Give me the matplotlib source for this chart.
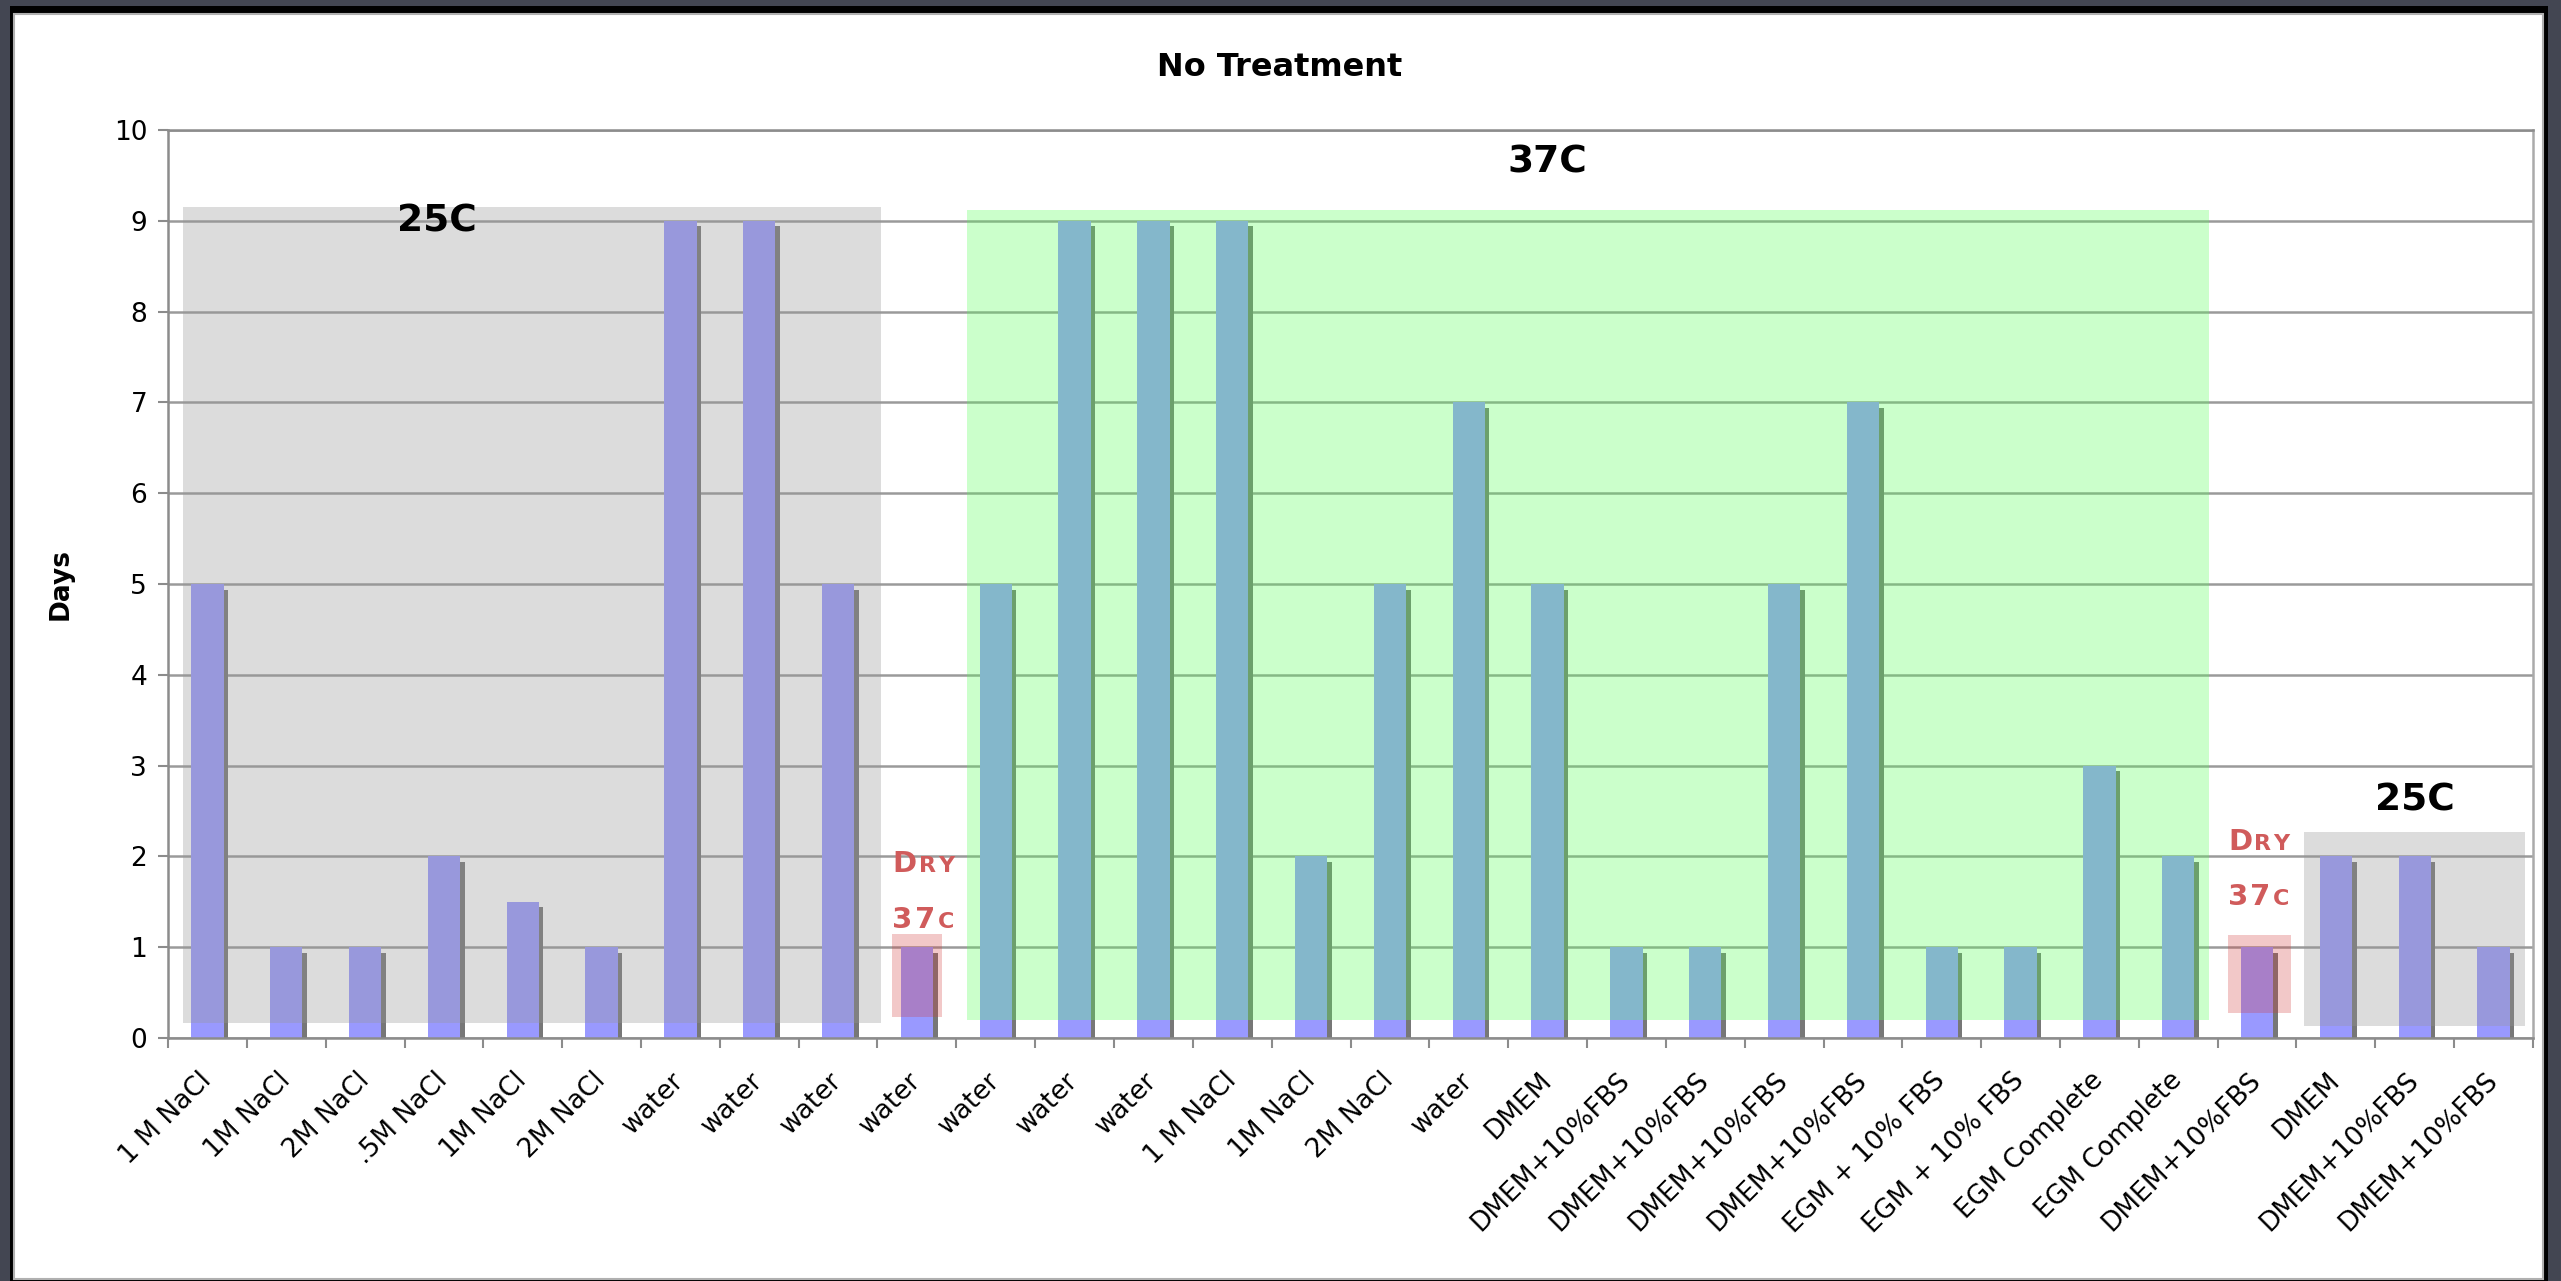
import numpy as np
import matplotlib
matplotlib.use('Agg')
import matplotlib.pyplot as plt
from matplotlib import patheffects as pe
from matplotlib.patches import Rectangle
from matplotlib.offsetbox import TextArea, HPacker, AnnotationBbox

# chart data
labels = ["1 M NaCl", "1M NaCl", "2M NaCl", ".5M NaCl", "1M NaCl", "2M NaCl",
          "water", "water", "water", "water", "water", "water", "water",
          "1 M NaCl", "1M NaCl", "2M NaCl", "water", "DMEM",
          "DMEM+10%FBS", "DMEM+10%FBS", "DMEM+10%FBS", "DMEM+10%FBS",
          "EGM + 10% FBS", "EGM + 10% FBS", "EGM Complete", "EGM Complete",
          "DMEM+10%FBS", "DMEM", "DMEM+10%FBS", "DMEM+10%FBS"]
days = [5, 1, 1, 2, 1.5, 1, 9, 9, 5, 1,
        5, 9, 9, 9, 2, 5, 7, 5, 1, 1,
        5, 7, 1, 1, 3, 2, 1, 2, 2, 1]
y_ticks = list(range(0, 11))

W, H = 2561, 1281
fig = plt.figure(figsize=(W / 100, H / 100), dpi=100)
fig.patch.set_facecolor('#434652')

# slide frame: black edge + white panel
fig.add_artist(Rectangle((10 / W, 0), 2538 / W, 1275 / H, transform=fig.transFigure,
                         facecolor='black', edgecolor='none', zorder=-3))
fig.add_artist(Rectangle((14 / W, 2 / H), 2529 / W, 1265 / H, transform=fig.transFigure,
                         facecolor='white', edgecolor='#b0b0b0', lw=1.5, zorder=-2))

ax = fig.add_axes([168 / W, 1 - 1038 / H, 2365 / W, 908 / H])
ax.set_facecolor('white')

x = np.arange(len(days))
bars = ax.bar(x, days, width=0.41, color='#9999ff', zorder=2)
for b in bars:
    b.set_path_effects([pe.SimplePatchShadow(offset=(3.2, -4), shadow_rgbFace='#777777', alpha=1.0),
                        pe.Normal()])

# temperature regions (semi-transparent overlays)
regions = [
    ((-0.31, 0.16), 8.85, 8.99, '#969696', 0.33),
    ((9.63, 0.20), 15.76, 8.92, '#55ff55', 0.30),
    ((8.68, 0.23), 0.64, 0.92, '#d23c3c', 0.28),
    ((25.63, 0.27), 0.80, 0.86, '#d23c3c', 0.28),
    ((26.59, 0.13), 2.81, 2.14, '#969696', 0.33),
]
for xy, w, h, c, a in regions:
    ax.add_patch(Rectangle(xy, w, h, facecolor=c, edgecolor='none', alpha=a, zorder=3))

ax.set_xlim(-0.5, len(days) - 0.5)
ax.set_ylim(0, 10)
ax.set_yticks(y_ticks)
ax.set_yticklabels([str(t) for t in y_ticks], fontsize=19)
ax.set_xticks(x)
ax.set_xticklabels(labels, fontsize=19, rotation=45, ha='right', va='center',
                   rotation_mode='anchor')
ax.set_xticks(np.arange(-0.5, len(days), 1), minor=True)
ax.tick_params(axis='x', which='major', length=0, pad=28)
ax.tick_params(axis='x', which='minor', length=7, width=1.5, color='#8c8c8c', direction='out')
ax.tick_params(axis='y', length=7, width=1.5, color='#8c8c8c', pad=8)

ax.yaxis.grid(True, color='#9a9a9a', lw=1.8)
ax.set_axisbelow(True)
for s in ax.spines.values():
    s.set_color('#8c8c8c')
    s.set_linewidth(1.8)
ax.spines['right'].set_color('#aaaaaa')

# region labels
for tx, ty, t in [(2.91, 8.99, '25C'), (17.0, 9.64, '37C'), (28.0, 2.62, '25C')]:
    ax.text(tx, ty, t, fontsize=27, fontweight='bold', ha='center', va='center', zorder=5)


def small_caps(parts):
    kids = [TextArea(s, textprops=dict(color='#d05b5b', fontsize=fs, fontweight='bold'))
            for s, fs in parts]
    return HPacker(children=kids, align='baseline', pad=0, sep=1.5)


for dx, y_dry, y_37 in [(8.69, 1.92, 1.30), (25.63, 2.16, 1.55)]:
    for yy, parts in [(y_dry, [('D', 21), ('R', 16), ('Y', 16)]),
                      (y_37, [('3', 21), ('7', 21), ('C', 16)])]:
        ab = AnnotationBbox(small_caps(parts), (dx, yy), xycoords='data',
                            box_alignment=(0, 0.5), frameon=False, pad=0, zorder=6)
        ax.add_artist(ab)

fig.text(1280 / W, 1 - 67 / H, 'No Treatment', ha='center', va='center',
         fontsize=23, fontweight='bold')
fig.text(61 / W, 1 - 584 / H, 'Days', rotation=90, ha='center', va='center',
         fontsize=19, fontweight='bold')

fig.savefig('out.png', dpi=100, facecolor=fig.get_facecolor())
